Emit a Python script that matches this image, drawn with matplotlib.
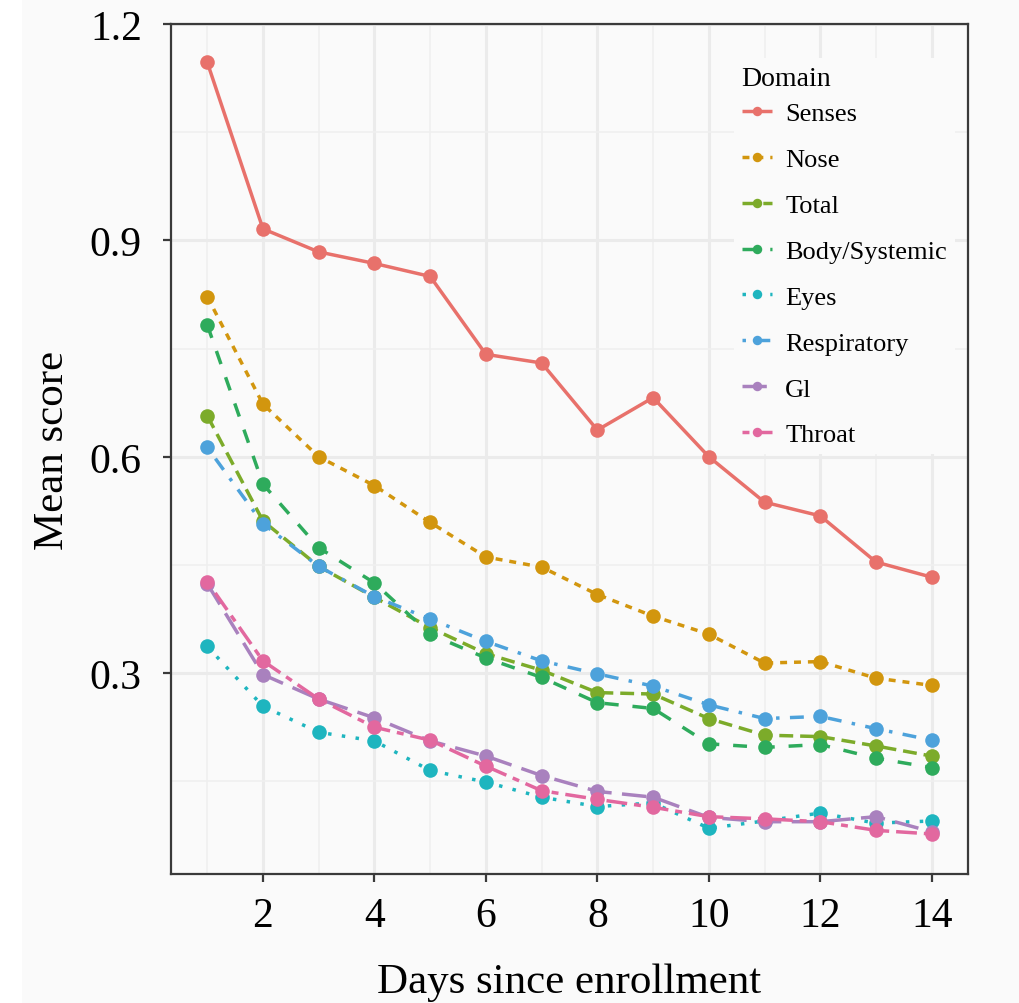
import matplotlib
matplotlib.use("Agg")
import matplotlib.pyplot as plt
from matplotlib.patches import Rectangle
import numpy as np

plt.rcParams['font.family'] = ['Liberation Serif', 'DejaVu Serif']

days = list(range(1, 15))
domains = ["Senses", "Nose", "Total", "Body/Systemic", "Eyes", "Respiratory", "Gl", "Throat"]

senses = [1.147, 0.916, 0.884, 0.868, 0.850, 0.742, 0.730, 0.637, 0.682, 0.600, 0.537, 0.518, 0.454, 0.433]
nose = [0.822, 0.673, 0.600, 0.560, 0.509, 0.461, 0.447, 0.409, 0.379, 0.354, 0.314, 0.316, 0.293, 0.283]
total = [0.657, 0.511, 0.448, 0.405, 0.363, 0.327, 0.304, 0.273, 0.271, 0.237, 0.214, 0.212, 0.199, 0.185]
body = [0.783, 0.562, 0.474, 0.425, 0.354, 0.321, 0.294, 0.259, 0.251, 0.202, 0.197, 0.201, 0.182, 0.169]
eyes = [0.337, 0.254, 0.218, 0.206, 0.165, 0.149, 0.128, 0.115, 0.120, 0.085, 0.095, 0.106, 0.092, 0.095]
resp = [0.613, 0.507, 0.448, 0.406, 0.375, 0.344, 0.317, 0.299, 0.282, 0.256, 0.237, 0.240, 0.223, 0.207]
gi = [0.424, 0.298, 0.264, 0.238, 0.206, 0.185, 0.158, 0.136, 0.128, 0.100, 0.094, 0.094, 0.101, 0.080]
throat = [0.427, 0.317, 0.264, 0.225, 0.207, 0.171, 0.137, 0.125, 0.114, 0.101, 0.098, 0.094, 0.082, 0.077]

series = [senses, nose, total, body, eyes, resp, gi, throat]
colors = ["#E8716B", "#D2960E", "#7CAB2A", "#2EAB5C", "#1EB5BF", "#4DA2DB", "#A981BE", "#E2689F"]
dash_patterns = [None, (2, 2), (4, 2), (4, 4), (1, 3), (1, 3, 4, 3), (7, 3), (2, 2, 6, 2)]

W, H = 1020, 1004
fig = plt.figure(figsize=(W / 100, H / 100), dpi=100, facecolor="#fafafa")
fig.add_artist(Rectangle((0, 0), 22 / W, 1, transform=fig.transFigure,
                         facecolor="white", edgecolor="none", zorder=-10))
ax = fig.add_axes([171 / W, 1 - 875 / H, (968 - 171) / W, (875 - 25) / H])
ax.set_facecolor("#fafafa")

for name, vals, col, dp in zip(domains, series, colors, dash_patterns):
    line, = ax.plot(days, vals, color=col, lw=2.5, marker="o", ms=10.5,
                    markeredgewidth=0, label=name, solid_capstyle="butt")
    if dp is not None:
        line.set_dashes(dp)

ax.set_xlim(0.35, 14.65)
ax.set_ylim(0.0215, 1.2)
ax.set_xticks([2, 4, 6, 8, 10, 12, 14])
ax.set_xticks([1, 3, 5, 7, 9, 11, 13], minor=True)
ax.set_yticks([0.3, 0.6, 0.9, 1.2])
ax.set_yticks([0.15, 0.45, 0.75, 1.05], minor=True)
ax.set_yticklabels(["0.3", "0.6", "0.9", "1.2"])
ax.grid(True, which="major", color="#ebebeb", lw=2.2, zorder=0)
ax.grid(True, which="minor", color="#efefef", lw=1.1, zorder=0)
ax.set_axisbelow(True)

for s in ax.spines.values():
    s.set_color("#3a3a3a")
    s.set_linewidth(1.6)
ax.tick_params(which="major", direction="out", length=6, width=1.6, color="#3a3a3a",
               labelsize=30, labelcolor="black")
ax.tick_params(axis="y", which="major", pad=15)
ax.tick_params(axis="x", which="major", pad=10)
ax.tick_params(which="minor", length=0)

ax.set_xlabel("Days since enrollment", fontsize=31, labelpad=20)
ax.set_ylabel("Mean score", fontsize=31, labelpad=13)

leg = ax.legend(loc="upper right", bbox_to_anchor=(1.0, 0.976), fontsize=19,
                title="Domain", title_fontsize=20, frameon=True, facecolor="#fafafa",
                edgecolor="none", framealpha=1, fancybox=False, handlelength=1.15,
                handletextpad=0.5, labelspacing=0.85, markerscale=0.65,
                alignment="left", borderpad=0.3)
leg._legend_box.sep = 8

fig.savefig("out.png", dpi=100, facecolor=fig.get_facecolor())
